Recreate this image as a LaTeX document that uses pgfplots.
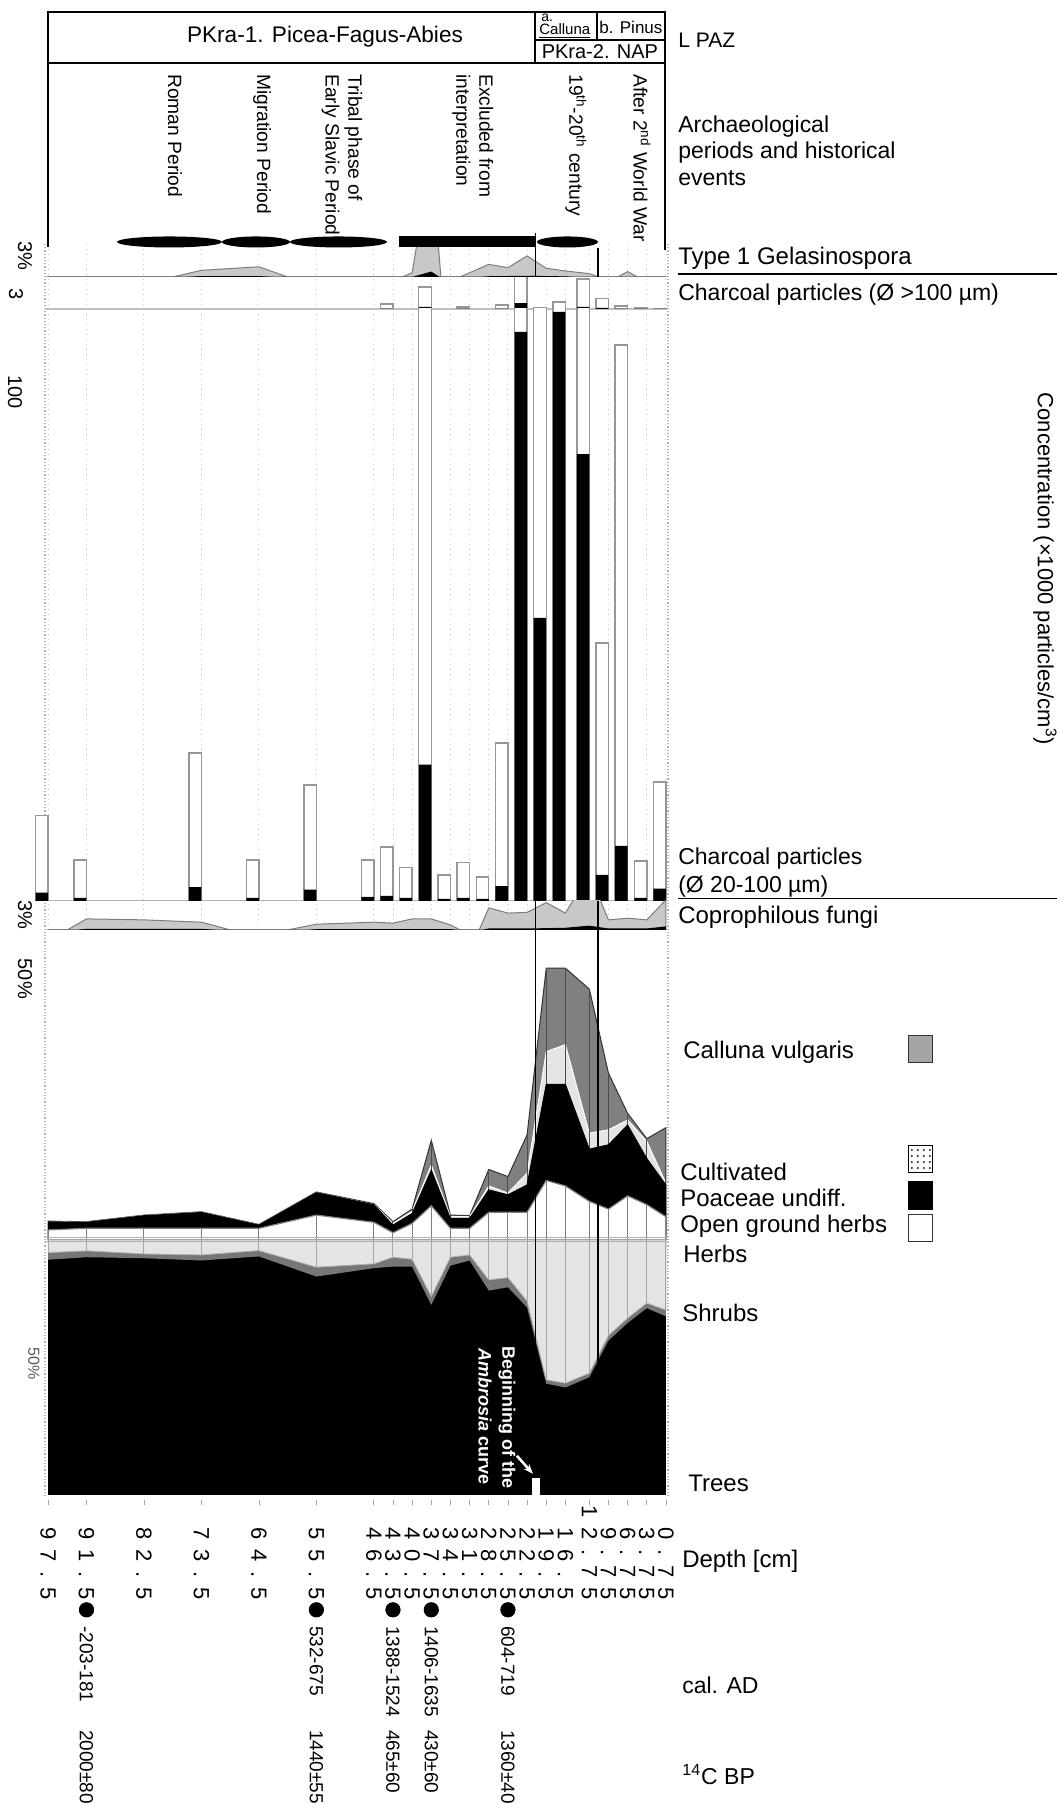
\documentclass[border=0pt]{standalone}
\usepackage{pgfplots}
\pgfplotsset{compat=1.18}
\usepackage{pgfplotstable}
\usepackage{fontspec}
\setmainfont{Liberation Sans}
\newfontfamily\depthfont{Liberation Sans}[LetterSpace=44]
\newfontfamily\ambfont{Liberation Sans Bold}
\newfontfamily\ambitfont{Liberation Sans Bold Italic}
\usetikzlibrary{patterns,arrows.meta}
\definecolor{lgray}{RGB}{200,200,200}
\definecolor{lgline}{RGB}{125,125,125}
\definecolor{calluna}{RGB}{128,128,128}
\definecolor{callleg}{RGB}{165,165,165}
\definecolor{dotfill}{RGB}{228,228,228}
\definecolor{barline}{RGB}{150,150,150}
\definecolor{gridc}{RGB}{200,200,200}
\definecolor{shrub}{RGB}{118,118,118}

\pgfplotstableread{
d g
97.5 0
91.5 0
82.5 0
78 0
73.5 1.1
64.5 1.7
60 0
55.5 0
46.5 0
43.5 0
42 0
40.5 0.7
37.5 20
36 0
34.5 0
33 0
31.5 0.7
28.5 2.1
25.5 1.55
22.5 3.5
19.5 1.45
16.5 1.0
12.75 0.55
11.25 0
9.75 0
8.25 0
6.75 0.9
5.25 0
3.75 0
0.75 0
}\gelgray
\pgfplotstableread{
d b
97.5 0
76 0
73.5 0.15
64.5 0.15
62 0
40.5 0
37.5 0.9
36.2 0
30 0
28.5 0.12
22.5 0.2
16.5 0.1
15 0
0.75 0
}\gelblack
\pgfplotstableread{
d tot blk
43.5 0.94 0
37.5 4.1 0.4
31.5 0.4 0
25.5 0.75 0
22.5 7 1.1
19.5 0.2 0
16.5 1.3 0
12.75 5.6 0.4
9.75 1.9 0.2
6.75 0.56 0
3.75 0.2 0
0.75 0.05 0
}\cbig
\pgfplotstableread{
d tot blk
97.5 16.7 1.6
91.5 8.0 0.6
73.5 29.0 2.7
64.5 8.0 0.6
55.5 22.7 2.2
46.5 8.0 0.8
43.5 10.6 1.0
40.5 6.5 0.6
37.5 130 26.7
34.5 5.1 0.4
31.5 7.5 0.6
28.5 4.7 0.4
25.5 31.0 2.9
22.5 130 111.6
19.5 130 55.5
16.5 130 115.5
12.75 130 87.6
9.75 50.6 5.1
6.75 109 10.8
3.75 7.8 0.6
0.75 23.3 2.4
}\csmall
\pgfplotstableread{
d c
97.5 0
94.5 0
91.5 1.57
82.5 1.43
73.5 1.1
69 0
64.5 0
60 0
55.5 0.81
46.5 1.1
43.5 0.96
40.5 1.57
37.5 1.57
34.5 0.71
33 0
31.5 0
30 0
28.5 3.14
25.5 2.4
22.5 2.5
19.5 3.9
16.5 2.4
12.75 8
9.75 1.43
6.75 1.67
3.75 1.43
0.75 4.3
}\copgray
\pgfplotstableread{
d b
97.5 0
93 0
91.5 0.15
73.5 0.15
71 0
57 0
55.5 0.1
34.5 0.12
33.5 0
29.5 0
28.5 0.2
22.5 0.2
19.5 0.25
16.5 0.3
12.75 0.6
9.75 0.2
3.75 0.2
0.75 0.5
}\copblack
\pgfplotstableread{
d b1 b2 b3 b4
97.5 1.8 3.3 3.3 3.4
91.5 2.1 3.2 3.2 3.3
82.5 2.1 4.4 4.4 4.5
73.5 2.1 5.0 5.0 5.1
64.5 2.1 2.7 2.7 2.8
55.5 4.5 8.6 8.6 8.7
46.5 3.2 6.4 6.4 6.6
43.5 1.3 2.7 3.0 3.3
40.5 3.0 4.8 5.2 5.6
37.5 6.2 12.7 13.6 18.1
34.5 2.1 3.9 4.2 4.5
31.5 2.1 3.9 4.2 4.4
28.5 5.0 9.1 9.8 12.8
25.5 5.0 8.2 8.5 11.5
22.5 5.0 10.0 12.1 19.1
19.5 10.8 28.3 34.2 49.4
16.5 9.8 28.3 35.5 49.4
12.75 7.0 16.5 19.4 45.6
9.75 5.6 17.3 20.0 30.3
6.75 8.0 20.9 21.8 23.0
3.75 6.4 14.8 17.9 18.4
0.75 4.2 10.0 10.3 20.4
}\nap
\pgfplotstableread{
d h hs
97.5 5.0 7.8
91.5 4.3 6.8
82.5 5.5 7.2
73.5 5.9 8.1
64.5 4.2 6.5
55.5 10.7 14.4
46.5 9.4 11.1
43.5 6.8 10.5
40.5 7.6 10.5
37.5 22.2 25.5
34.5 6.8 10.1
31.5 5.9 8.1
28.5 15.7 19.9
25.5 14.8 18.6
22.5 24.0 26.5
19.5 54.9 56.4
16.5 56.2 57.9
12.75 52.3 53.9
9.75 37.5 39.5
6.75 30.7 32.6
3.75 24.8 26.8
0.75 27.5 30.0
}\low

\pgfplotsset{panel/.style={scale only axis, width=320pt, xmin=0.13, xmax=100.35,
  x dir=reverse, hide axis, anchor=north west}}

\begin{document}
\begin{tikzpicture}
\begin{scope}[x=0.5pt,y=-0.5pt]
\path[use as bounding box] (0,0) rectangle (1057,1804);
% sample grid lines and bottom ticks
\foreach \d in {97.5,91.5,82.5,73.5,64.5,55.5,46.5,43.5,40.5,37.5,34.5,31.5,28.5,25.5,22.5,19.5,16.5,12.75,9.75,6.75,3.75,0.75}{
  \draw[gridc, dotted, line width=0.5pt] ({48.2+(97.5-\d)*6.386},244) -- ({48.2+(97.5-\d)*6.386},930);
  \draw[gray!70, line width=0.4pt] ({48.2+(97.5-\d)*6.386},1500) -- ++(0,5);
}
\draw[gray!60, densely dotted, line width=0.6pt] (45,244) -- (45,1497);
\draw[gray!60, densely dotted, line width=0.6pt] (668,244) -- (668,1497);
\draw[gray!60, line width=0.5pt] (45,277) -- (668,277);
\draw[gray!50, line width=0.8pt] (45,309) -- (668,309);
\draw[gray!60, line width=0.6pt] (45,901) -- (668,901);
\draw[gray!50, line width=0.5pt] (45,930) -- (668,930);
\end{scope}

% Gelasinospora
\begin{axis}[panel, at={(15pt,-122pt)}, height=16.5pt, ymin=0, ymax=5.5]
  \addplot[fill=lgray, draw=lgline, line width=0.5pt] table[x=d,y=g]{\gelgray} \closedcycle;
  \addplot[fill=black, draw=none] table[x=d,y=b]{\gelblack} \closedcycle;
\end{axis}
% Charcoal > 100
\begin{axis}[panel, at={(15pt,-139pt)}, height=15.5pt, ymin=0, ymax=5.8]
  \addplot[ybar, bar width=1.96, bar shift=0pt, fill=white, draw=barline, line width=0.7pt]
     table[x expr=\thisrow{d}+0.98, y=tot]{\cbig};
  \addplot[ybar, bar width=1.96, bar shift=0pt, fill=black, draw=none]
     table[x expr=\thisrow{d}+0.98, y=blk]{\cbig};
\end{axis}
% Charcoal 20-100
\begin{axis}[panel, at={(15pt,-154.5pt)}, height=296pt, ymin=0, ymax=116.08]
  \addplot[ybar, bar width=1.96, bar shift=0pt, fill=white, draw=barline, line width=0.7pt]
     table[x expr=\thisrow{d}+0.98, y=tot]{\csmall};
  \addplot[ybar, bar width=1.96, bar shift=0pt, fill=black, draw=none]
     table[x expr=\thisrow{d}+0.98, y=blk]{\csmall};
\end{axis}
% Coprophilous
\begin{axis}[panel, at={(15pt,-450.5pt)}, height=14.5pt, ymin=0, ymax=4.14]
  \addplot[fill=lgray, draw=lgline, line width=0.5pt] table[x=d,y=c]{\copgray} \closedcycle;
  \addplot[fill=black, draw=none] table[x=d,y=b]{\copblack} \closedcycle;
\end{axis}
% NAP percentages
\begin{axis}[panel, at={(15pt,-465pt)}, height=155pt, ymin=0, ymax=56.36]
  \addplot[fill=calluna, draw=gray!40!black, line width=0.5pt] table[x=d,y=b4]{\nap} \closedcycle;
  \addplot[fill=dotfill, draw=white, line width=0.5pt] table[x=d,y=b3]{\nap} \closedcycle;
  \addplot[ycomb, draw=gray!60!black, line width=0.5pt] table[x=d,y=b4]{\nap};
  \addplot[fill=black, draw=black] table[x=d,y=b2]{\nap} \closedcycle;
  \addplot[fill=white, draw=gray, line width=0.6pt] table[x=d,y=b1]{\nap} \closedcycle;
  \addplot[ycomb, draw=gray, line width=0.5pt] table[x=d,y=b1]{\nap};
\end{axis}
% Trees / shrubs / herbs
\begin{axis}[panel, at={(15pt,-620pt)}, height=127.5pt, y dir=reverse, ymin=0, ymax=100]
  \addplot[fill=black, draw=none] coordinates {(97.5,100) (0.75,100)} \closedcycle;
  \addplot[fill=shrub, draw=none] table[x=d,y=hs]{\low} \closedcycle;
  \addplot[fill=dotfill, draw=gray!60, line width=0.4pt] table[x=d,y=h]{\low} \closedcycle;
  \addplot[ycomb, draw=gray!70, line width=0.5pt] table[x=d,y=h]{\low};
\end{axis}
% bottom: depths, dates
\begin{axis}[panel, at={(15pt,-750pt)}, height=152pt, y dir=reverse, ymin=0, ymax=304, clip=false]
  \pgfplotsinvokeforeach{97.5,91.5,82.5,73.5,64.5,55.5,46.5,43.5,40.5,37.5,34.5,31.5,28.5,25.5,22.5,19.5,16.5,12.75,9.75,6.75,3.75,0.75}{
    \node[rotate=-90, anchor=east, inner sep=0pt, font=\depthfont\fontsize{11}{13}\selectfont] at (axis cs:#1,100) {#1};
  }
  \addplot[only marks, mark=*, mark size=3.6pt, black] coordinates {(91.5,110) (55.5,110) (43.5,110) (37.5,110) (25.5,110)};
  \node[rotate=-90, anchor=west, inner sep=0pt, font=\fontsize{9.5}{11}\selectfont] at (axis cs:91.5,126) {-203-181};
  \node[rotate=-90, anchor=west, inner sep=0pt, font=\fontsize{9.5}{11}\selectfont] at (axis cs:55.5,126) {532-675};
  \node[rotate=-90, anchor=west, inner sep=0pt, font=\fontsize{9.5}{11}\selectfont] at (axis cs:43.5,126) {1388-1524};
  \node[rotate=-90, anchor=west, inner sep=0pt, font=\fontsize{9.5}{11}\selectfont] at (axis cs:37.5,126) {1406-1635};
  \node[rotate=-90, anchor=west, inner sep=0pt, font=\fontsize{9.5}{11}\selectfont] at (axis cs:25.5,126) {604-719};
  \node[rotate=-90, anchor=west, inner sep=0pt, font=\fontsize{9.5}{11}\selectfont] at (axis cs:91.5,230) {2000±80};
  \node[rotate=-90, anchor=west, inner sep=0pt, font=\fontsize{9.5}{11}\selectfont] at (axis cs:55.5,230) {1440±55};
  \node[rotate=-90, anchor=west, inner sep=0pt, font=\fontsize{9.5}{11}\selectfont] at (axis cs:43.5,230) {465±60};
  \node[rotate=-90, anchor=west, inner sep=0pt, font=\fontsize{9.5}{11}\selectfont] at (axis cs:37.5,230) {430±60};
  \node[rotate=-90, anchor=west, inner sep=0pt, font=\fontsize{9.5}{11}\selectfont] at (axis cs:25.5,230) {1360±40};
\end{axis}

\begin{scope}[x=0.5pt,y=-0.5pt,
  lab/.style={inner sep=0pt, font=\fontsize{11.5}{13}\selectfont},
  per/.style={inner sep=0pt, rotate=-90, anchor=west, align=left, font=\fontsize{9.6}{11.5}\selectfont}]
\draw[gray!60, line width=0.6pt] (45,1238) -- (668,1238);
\draw[gray!60, line width=0.6pt] (45,1241.5) -- (668,1241.5);
% zone boundary lines
\draw[line width=0.7pt] (535.7,233) -- (535.7,277);
\draw[line width=0.7pt] (598,248) -- (598,277);
\draw[line width=0.7pt] (535.7,901) -- (535.7,1495);
\draw[line width=0.7pt] (598,901) -- (598,1495);

% Ambrosia annotation
\node[rotate=-90, anchor=east, inner sep=0pt, text=white, font=\ambfont\fontsize{9}{10}\selectfont] at (507,1489) {Beginning of the};
\node[rotate=-90, anchor=east, inner sep=0pt, text=white, font=\ambfont\fontsize{9}{10}\selectfont] at (485,1485) {{\ambitfont Ambrosia} curve};
\draw[white, line width=1.3pt, -{Stealth[length=5pt]}] (517,1456) -- (533,1474);
\fill[white] (532,1478) rectangle (540,1495);

% top box
\draw[line width=0.6pt] (48,12) rectangle (665,63);
\draw[line width=0.6pt] (535,12) -- (535,63);
\draw[line width=0.6pt] (535,40) -- (665,40);
\draw[line width=0.6pt] (597,12) -- (597,40);
\draw[line width=0.6pt] (48,63) -- (48,247);
\draw[line width=0.6pt] (665,63) -- (665,250);
\node[inner sep=0pt, font=\fontsize{11.3}{13}\selectfont] at (325,37) {PKra-1. Picea-Fagus-Abies};
\node[inner sep=0pt, anchor=west, font=\fontsize{7}{8}\selectfont] at (541,18) {a.};
\node[inner sep=0pt, anchor=west, font=\fontsize{7.5}{8}\selectfont] at (539,31) {\underline{Calluna}};
\node[inner sep=0pt, font=\fontsize{8.5}{10}\selectfont] at (631,27) {b. Pinus};
\node[inner sep=0pt, font=\fontsize{10}{11}\selectfont] at (600,52) {PKra-2. NAP};

% periods
\node[per] at (175,74) {Roman Period};
\node[per] at (262,74) {Migration Period};
\node[per] at (342,74) {Tribal phase of\\Early Slavic Period};
\node[per] at (473,74) {Excluded from\\interpretation};
\node[per] at (576,74) {19\textsuperscript{th}-20\textsuperscript{th} century};
\node[per] at (642,74) {After 2\textsuperscript{nd} World War};
\fill (169.5,242) ellipse [x radius=52.5, y radius=5.5];
\fill (256,242) ellipse [x radius=34, y radius=5.5];
\fill (338.5,242) ellipse [x radius=48.5, y radius=5.5];
\fill (399,236) rectangle (536,247);
\fill (567.5,242) ellipse [x radius=30.5, y radius=5.5];

% left scale labels
\node[rotate=-90, inner sep=0pt, font=\fontsize{10}{12}\selectfont] at (25,256) {3\%};
\node[rotate=-90, inner sep=0pt, font=\fontsize{10}{12}\selectfont] at (16,294) {3};
\node[rotate=-90, inner sep=0pt, font=\fontsize{10}{12}\selectfont] at (15,392) {100};
\node[rotate=-90, inner sep=0pt, font=\fontsize{10}{12}\selectfont] at (25,915) {3\%};
\node[rotate=-90, inner sep=0pt, font=\fontsize{10}{12}\selectfont] at (25,979) {50\%};
\node[rotate=-90, inner sep=0pt, text=gray!70!black, font=\fontsize{8}{10}\selectfont] at (34,1364) {50\%};

% right labels
\node[lab, anchor=west, font=\fontsize{10.5}{12}\selectfont] at (678,40) {L PAZ};
\node[lab, anchor=west] at (678,127) {Archaeological};
\node[lab, anchor=west] at (678,153) {periods and historical};
\node[lab, anchor=west] at (678,178) {events};
\node[lab, anchor=west, font=\fontsize{12}{14}\selectfont] at (678,258) {Type 1 Gelasinospora};
\draw[line width=0.6pt] (678,274) -- (1057,274);
\node[lab, anchor=west] at (678,295) {Charcoal particles (Ø >100 µm)};
\node[lab, rotate=-90, font=\fontsize{11}{13}\selectfont] at (1045,569) {Concentration (×1000 particles/cm\textsuperscript{3})};
\node[lab, anchor=west] at (678,859) {Charcoal particles};
\node[lab, anchor=west] at (678,887) {(Ø 20-100 µm)};
\draw[line width=0.6pt] (678,899) -- (1057,899);
\node[lab, anchor=west, font=\fontsize{12}{14}\selectfont] at (678,917) {Coprophilous fungi};
\node[lab, anchor=west, font=\fontsize{12}{14}\selectfont] at (683,1052) {Calluna vulgaris};
\filldraw[fill=callleg, draw=gray!40!black, line width=0.5pt] (909,1036) rectangle (933,1063);
\node[lab, anchor=west, font=\fontsize{12}{14}\selectfont] at (680,1172) {Cultivated};
\draw[line width=0.5pt, pattern=dots, pattern color=black] (909,1146) rectangle (933,1173);
\node[lab, anchor=west, font=\fontsize{12}{14}\selectfont] at (680,1198) {Poaceae undiff.};
\filldraw[fill=black, draw=black, line width=0.5pt] (909,1182) rectangle (933,1210);
\node[lab, anchor=west, font=\fontsize{12}{14}\selectfont] at (680,1226) {Open ground herbs};
\filldraw[fill=white, draw=gray!40!black, line width=0.5pt] (909,1215) rectangle (933,1242);
\node[lab, anchor=west, font=\fontsize{12}{14}\selectfont] at (683,1254) {Herbs};
\node[lab, anchor=west, font=\fontsize{12}{14}\selectfont] at (682,1313) {Shrubs};
\node[lab, anchor=west, font=\fontsize{12}{14}\selectfont] at (688,1484) {Trees};
\node[lab, anchor=west, font=\fontsize{12}{14}\selectfont] at (682,1561) {Depth [cm]};
\node[lab, anchor=west] at (682,1685) {cal. AD};
\node[lab, anchor=west] at (682,1775) {\textsuperscript{14}C BP};
\end{scope}
\end{tikzpicture}
\end{document}
